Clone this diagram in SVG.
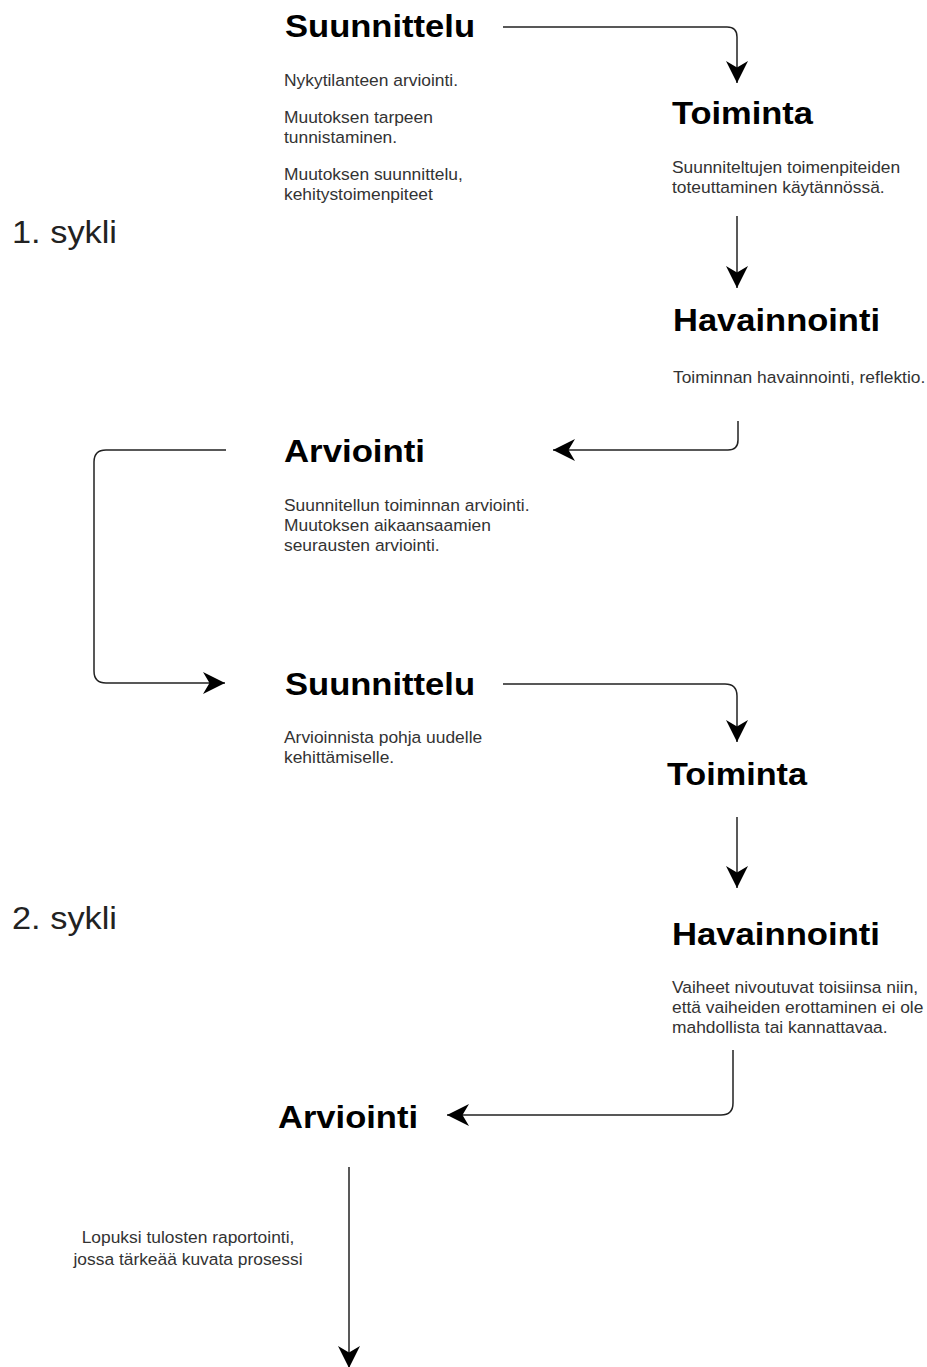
<svg xmlns="http://www.w3.org/2000/svg" width="927" height="1367" viewBox="0 0 927 1367">
<style>
.h{font-family:"Liberation Sans",Arial,sans-serif;font-weight:bold;font-size:32px;fill:#000}
.b{font-family:"Liberation Sans",Arial,sans-serif;font-size:17.4px;fill:#333}
.c{font-family:"Liberation Sans",Arial,sans-serif;font-size:32px;fill:#222}
.e{fill:none;stroke:#222;stroke-width:1.5}
</style>
<defs>
<marker id="arr" markerUnits="userSpaceOnUse" viewBox="0 0 23 23" markerWidth="23" markerHeight="23" refX="22" refY="11.5" orient="auto">
<path d="M0,0.5 L22,11.5 L0,22.5 L6.5,11.5 Z" fill="#000"/>
</marker>
</defs>
<rect width="927" height="1367" fill="#fff"/>
<g id="connectors">
<path class="e" d="M503,27 H727 Q737,27 737,37 V83" marker-end="url(#arr)"/>
<path class="e" d="M737,216 V288" marker-end="url(#arr)"/>
<path class="e" d="M738,421 V440 Q738,450 728,450 H553" marker-end="url(#arr)"/>
<path class="e" d="M226,450 H106 Q94,450 94,462 V671 Q94,683 106,683 H225" marker-end="url(#arr)"/>
<path class="e" d="M503,684 H725 Q737,684 737,696 V742" marker-end="url(#arr)"/>
<path class="e" d="M737,817 V888" marker-end="url(#arr)"/>
<path class="e" d="M733,1050 V1103 Q733,1115 721,1115 H447" marker-end="url(#arr)"/>
<path class="e" d="M349,1167 V1368" marker-end="url(#arr)"/>
</g>
<g id="cycle1">
<text class="c" x="12" y="243" textLength="105" lengthAdjust="spacingAndGlyphs">1. sykli</text>
</g>
<g id="cycle2">
<text class="c" x="12" y="929" textLength="105" lengthAdjust="spacingAndGlyphs">2. sykli</text>
</g>
<g id="suunnittelu1">
<text class="h" x="285" y="37" textLength="190" lengthAdjust="spacingAndGlyphs">Suunnittelu</text>
<text class="b" x="284" y="86">Nykytilanteen arviointi.</text>
<text class="b" x="284" y="123">Muutoksen tarpeen</text>
<text class="b" x="284" y="143">tunnistaminen.</text>
<text class="b" x="284" y="180">Muutoksen suunnittelu,</text>
<text class="b" x="284" y="200">kehitystoimenpiteet</text>
</g>
<g id="toiminta1">
<text class="h" x="672" y="124" textLength="141" lengthAdjust="spacingAndGlyphs">Toiminta</text>
<text class="b" x="672" y="173">Suunniteltujen toimenpiteiden</text>
<text class="b" x="672" y="193">toteuttaminen käytännössä.</text>
</g>
<g id="havainnointi1">
<text class="h" x="673" y="331" textLength="207" lengthAdjust="spacingAndGlyphs">Havainnointi</text>
<text class="b" x="673" y="383">Toiminnan havainnointi, reflektio.</text>
</g>
<g id="arviointi1">
<text class="h" x="284" y="462" textLength="141" lengthAdjust="spacingAndGlyphs">Arviointi</text>
<text class="b" x="284" y="511">Suunnitellun toiminnan arviointi.</text>
<text class="b" x="284" y="531">Muutoksen aikaansaamien</text>
<text class="b" x="284" y="551">seurausten arviointi.</text>
</g>
<g id="suunnittelu2">
<text class="h" x="285" y="695" textLength="190" lengthAdjust="spacingAndGlyphs">Suunnittelu</text>
<text class="b" x="284" y="743">Arvioinnista pohja uudelle</text>
<text class="b" x="284" y="763">kehittämiselle.</text>
</g>
<g id="toiminta2">
<text class="h" x="667" y="785" textLength="140" lengthAdjust="spacingAndGlyphs">Toiminta</text>
</g>
<g id="havainnointi2">
<text class="h" x="672" y="945" textLength="208" lengthAdjust="spacingAndGlyphs">Havainnointi</text>
<text class="b" x="672" y="993">Vaiheet nivoutuvat toisiinsa niin,</text>
<text class="b" x="672" y="1013">että vaiheiden erottaminen ei ole</text>
<text class="b" x="672" y="1033">mahdollista tai kannattavaa.</text>
</g>
<g id="arviointi2">
<text class="h" x="278" y="1128" textLength="140" lengthAdjust="spacingAndGlyphs">Arviointi</text>
</g>
<g id="lopuksi">
<text class="b" x="188" y="1243" text-anchor="middle">Lopuksi tulosten raportointi,</text>
<text class="b" x="188" y="1265" text-anchor="middle">jossa tärkeää kuvata prosessi</text>
</g>
</svg>
